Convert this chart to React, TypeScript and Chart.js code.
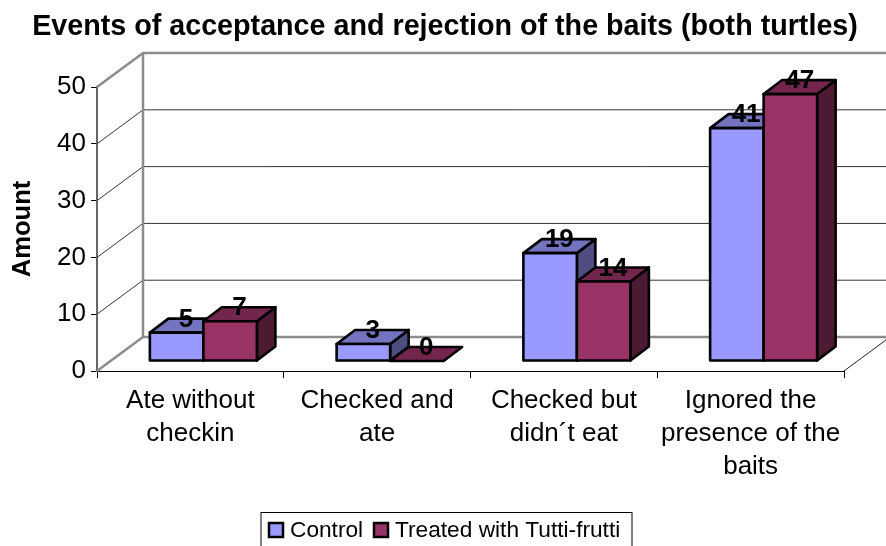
import React, { useEffect, useRef } from "react";
import { Chart, registerables } from "chart.js";

Chart.register(...registerables);

const titleText = "Events of acceptance and rejection of the baits (both turtles)";
const yAxisTitle = "Amount";
const categories = [
  ["Ate without", "checkin"],
  ["Checked and", "ate"],
  ["Checked but", "didn´t eat"],
  ["Ignored the", "presence of the", "baits"],
];
const controlValues = [5, 3, 19, 41];
const treatedValues = [7, 0, 14, 47];
const seriesNames = ["Control", "Treated with Tutti-frutti"];
const frontColors = ["#9999FF", "#993366"];
const topColors = ["#7373BF", "#73264D"];
const sideColors = ["#4D4D80", "#4D1A33"];

const FONT = "'Liberation Sans', Arial, sans-serif";
const WALL = { dx: 46, dy: -34 };
const BAR_OFFSET = { dx: 13, dy: -10 };
const BAR_DEPTH = { dx: 18.5, dy: -14 };

const threeD = {
  id: "threeD",
  beforeDraw(chart: any) {
    // the title is centred on the whole figure, not on the plot's padded box
    chart.titleBlock.left = 4;
    chart.titleBlock.right = 886;
  },
  beforeDatasetsDraw(chart: any) {
    const { ctx, scales } = chart;
    const xs = scales.x;
    const ys = scales.y;
    const L = xs.left;
    const R = xs.right;
    const B = ys.bottom;
    const line = (pts: number[][], color: string, w: number) => {
      ctx.beginPath();
      pts.forEach((p, i) => (i ? ctx.lineTo(p[0], p[1]) : ctx.moveTo(p[0], p[1])));
      ctx.strokeStyle = color;
      ctx.lineWidth = w;
      ctx.lineJoin = "miter";
      ctx.stroke();
    };
    ctx.save();
    // gridlines on side and back walls
    ys.ticks.forEach((t: any) => {
      const y = ys.getPixelForValue(t.value);
      if (t.value === ys.min || t.value === ys.max) return;
      line([[L, y], [L + WALL.dx, y + WALL.dy], [R + WALL.dx, y + WALL.dy]], "#333333", 1);
    });
    // wall frame
    const T = ys.getPixelForValue(ys.max);
    line([[L, T], [L + WALL.dx, T + WALL.dy], [R + WALL.dx, T + WALL.dy]], "#8C8C8C", 2.5);
    line([[L + WALL.dx, T + WALL.dy], [L + WALL.dx, B + WALL.dy]], "#8C8C8C", 2.5);
    line([[L, B], [L + WALL.dx, B + WALL.dy], [R + WALL.dx, B + WALL.dy]], "#8C8C8C", 2.5);
    line([[R, B], [R + WALL.dx, B + WALL.dy]], "#222222", 1);

    // 3D bars, category by category
    const meta = chart.data.datasets.map((_: any, i: number) => chart.getDatasetMeta(i));
    const labels: { text: string; x: number; y: number }[] = [];
    chart.data.labels.forEach((_: any, c: number) => {
      meta.forEach((m: any, s: number) => {
        const el = m.data[c];
        const hw = el.width / 2;
        const x0 = el.x - hw + BAR_OFFSET.dx;
        const x1 = el.x + hw + BAR_OFFSET.dx;
        const top = el.y + BAR_OFFSET.dy;
        const bot = el.base + BAR_OFFSET.dy;
        const d = BAR_DEPTH;
        const poly = (pts: number[][], fill: string) => {
          ctx.beginPath();
          pts.forEach((p, i) => (i ? ctx.lineTo(p[0], p[1]) : ctx.moveTo(p[0], p[1])));
          ctx.closePath();
          ctx.fillStyle = fill;
          ctx.fill();
          ctx.strokeStyle = "#000";
          ctx.lineWidth = 2.6;
          ctx.lineJoin = "round";
          ctx.stroke();
        };
        if (bot - top > 0.5) {
          poly([[x1, top], [x1 + d.dx, top + d.dy], [x1 + d.dx, bot + d.dy], [x1, bot]], sideColors[s]);
        }
        poly([[x0, top], [x0 + d.dx, top + d.dy], [x1 + d.dx, top + d.dy], [x1, top]], topColors[s]);
        if (bot - top > 0.5) {
          poly([[x0, top], [x1, top], [x1, bot], [x0, bot]], frontColors[s]);
        }
        labels.push({
          text: String(chart.data.datasets[s].data[c]),
          x: el.x + BAR_OFFSET.dx + d.dx / 2,
          y: top + d.dy,
        });
      });
    });
    ctx.fillStyle = "#000";
    ctx.font = `bold 26px ${FONT}`;
    ctx.textAlign = "center";
    ctx.textBaseline = "middle";
    labels.forEach((l) => ctx.fillText(l.text, l.x, l.y + 1));
    ctx.restore();
    return false;
  },
  afterDraw(chart: any) {
    const { ctx } = chart;
    const left = 261;
    const right = 632;
    const top = 512.5;
    const bottom = chart.height + 5;
    ctx.save();
    ctx.strokeStyle = "#000";
    ctx.lineWidth = 1;
    ctx.strokeRect(left, top, right - left, bottom - top);
    ctx.font = `22.7px ${FONT}`;
    ctx.textBaseline = "middle";
    ctx.textAlign = "left";
    const boxX = [269, 374];
    chart.data.datasets.forEach((ds: any, i: number) => {
      ctx.fillStyle = ds.backgroundColor;
      ctx.fillRect(boxX[i], 523, 14, 14);
      ctx.strokeStyle = "#000";
      ctx.lineWidth = 2.5;
      ctx.strokeRect(boxX[i], 523, 14, 14);
      ctx.fillStyle = "#000";
      ctx.fillText(ds.label, boxX[i] + 21, 530.5);
    });
    ctx.restore();
  },
};

export default function App() {
  const ref = useRef<HTMLCanvasElement>(null);
  useEffect(() => {
    const chart = new Chart(ref.current as HTMLCanvasElement, {
      type: "bar",
      data: {
        labels: categories as any,
        datasets: [
          { label: seriesNames[0], data: controlValues, backgroundColor: frontColors[0], borderColor: "#000", borderWidth: 2 },
          { label: seriesNames[1], data: treatedValues, backgroundColor: frontColors[1], borderColor: "#000", borderWidth: 2 },
        ],
      },
      options: {
        responsive: false,
        animation: false,
        layout: { padding: { left: 0, right: 42, top: 0, bottom: 0 } },
        datasets: { bar: { categoryPercentage: 0.573, barPercentage: 1 } },
        plugins: {
          legend: { display: false },
          tooltip: { enabled: false },
          title: {
            display: true,
            text: titleText,
            color: "#000",
            font: { family: FONT, size: 28.7, weight: "bold" },
            padding: { top: 9.5, bottom: 43.1 },
          },
        },
        scales: {
          x: {
            afterFit: (s: any) => { s.height = 175; },
            border: { color: "#000", width: 1 },
            grid: { offset: true, drawOnChartArea: false, drawTicks: true, tickLength: 7, tickColor: "#000" },
            ticks: {
              color: "#000",
              autoSkip: false,
              maxRotation: 0,
              minRotation: 0,
              padding: 6,
              font: { family: FONT, size: 26, lineHeight: 1.27 },
            },
          },
          y: {
            min: 0,
            max: 50,
            afterFit: (s: any) => { s.width = 97; },
            border: { color: "#666666", width: 2 },
            grid: { drawOnChartArea: false, drawTicks: true, tickLength: 6, tickColor: "#000" },
            ticks: { color: "#000", stepSize: 10, padding: 5, font: { family: FONT, size: 26 } },
            title: {
              display: true,
              text: yAxisTitle,
              color: "#000",
              font: { family: FONT, size: 25.6, weight: "bold" },
              padding: { top: 8, bottom: 0 },
            },
          },
        },
      },
      plugins: [threeD],
    } as any);
    return () => chart.destroy();
  }, []);
  return (
    <div style={{ position: "absolute", left: 0, top: 0, width: 886, height: 546, overflow: "hidden", background: "#fff" }}>
      <canvas ref={ref} width={886} height={546} style={{ display: "block" }} />
    </div>
  );
}
